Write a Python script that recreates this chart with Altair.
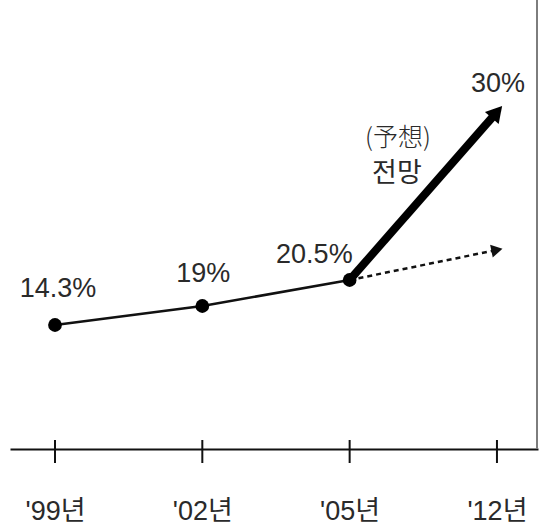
import altair as alt
import pandas as pd

# Survey years (x categories) and the rates shown at each point
years = ["'99년", "'02년", "'05년", "'12년"]
actual_rates = [14.3, 19.0, 20.5]
forecast_rate = 30.0
trend_rate = 22.2          # continuation of the earlier trend (dotted arrow)

FONT = "Liberation Sans, Noto Sans CJK KR"
KFONT = "Noto Sans CJK KR"
TEXT = "#2a2a2a"

W, H = 528, 449

actual = pd.DataFrame({"year": years[:3], "rate": actual_rates,
                       "label": [f"{v:g}%" for v in actual_rates]})
forecast = pd.DataFrame({"year": [years[2], years[3]],
                         "rate": [actual_rates[2], forecast_rate]})
trend = pd.DataFrame({"year": [years[2], years[3]],
                      "rate": [actual_rates[2], trend_rate]})
forecast_end = pd.DataFrame({"year": [years[3]], "rate": [forecast_rate],
                             "label": [f"{forecast_rate:g}%"]})
trend_end = pd.DataFrame({"year": [years[3]], "rate": [trend_rate]})
ticks = pd.DataFrame({"year": years})
edge = pd.DataFrame({"k": [1]})

x = alt.X("year:O",
          scale=alt.Scale(type="point", domain=years, padding=0.292, align=0.523),
          axis=alt.Axis(title=None, domain=True, domainColor="#111", domainWidth=2,
                        ticks=False, tickSize=0, labelAngle=0, labelPadding=70,
                        labelBaseline="alphabetic", labelFont=FONT, labelFontSize=27,
                        labelColor=TEXT, grid=False))
# schematic (non-proportional) vertical scale
y = alt.Y("rate:Q",
          scale=alt.Scale(domain=actual_rates + [forecast_rate],
                          range=[325, 306, 280, 112], nice=False, zero=False),
          axis=None)

base_actual = alt.Chart(actual).encode(x=x, y=y)

main_line = base_actual.mark_line(color="#111", strokeWidth=2.5)
dots = base_actual.mark_point(filled=True, color="#000", size=190, opacity=1)

proj_line = alt.Chart(forecast).mark_line(color="#000", strokeWidth=8).encode(x=x, y=y)
proj_head = alt.Chart(forecast_end).mark_point(
    shape="triangle-up", filled=True, color="#000", size=330, angle=41, opacity=1
).encode(x=x, y=y)

trend_line = alt.Chart(trend).mark_line(color="#111", strokeWidth=2.5,
                                        strokeDash=[5, 4]).encode(x=x, y=y)
trend_head = alt.Chart(trend_end).mark_point(
    shape="triangle-up", filled=True, color="#111", size=170, angle=78.5, opacity=1
).encode(x=x, y=y)

tick_marks = alt.Chart(ticks).mark_rule(color="#111", strokeWidth=2).encode(
    x=x, y=alt.value(H - 9), y2=alt.value(H + 14))

# light frame edge on the right of the plot (full plot height)
frame = alt.Chart(edge).mark_rule(color="#7d7d7d", strokeWidth=2).encode(
    x=alt.value(W - 1))


def value_label(row, **kw):
    return alt.Chart(actual.iloc[[row]]).mark_text(
        font=FONT, fontSize=27, color=TEXT, baseline="alphabetic", **kw
    ).encode(x=x, y=y, text="label:N")


lab0 = value_label(0, dx=3, dy=-28)
lab1 = value_label(1, dx=1, dy=-24)
lab2 = value_label(2, align="right", dx=3, dy=-17)

lab_fc = alt.Chart(forecast_end).mark_text(
    font=FONT, fontSize=27, color=TEXT, baseline="alphabetic", dx=1, dy=-20
).encode(x=x, y=y, text="label:N")

note1 = alt.Chart(forecast_end).mark_text(
    text="(予想)", font=KFONT, fontSize=25, fontWeight=300, color=TEXT,
    baseline="middle", dx=-99, dy=26
).encode(x=x, y=y)
note2 = alt.Chart(forecast_end).mark_text(
    text="전망", font=KFONT, fontSize=27, color=TEXT,
    baseline="middle", dx=-100, dy=62
).encode(x=x, y=y)

chart = alt.layer(
    tick_marks, main_line, trend_line, trend_head, proj_line, proj_head,
    dots, lab0, lab1, lab2, lab_fc, note1, note2, frame
).properties(
    width=W, height=H,
    padding={"left": 10, "top": 0, "right": 3, "bottom": 78},
    autosize=alt.AutoSizeParams(type="none"),
    background="white",
).configure_view(stroke=None)

chart.save("out.html", embed_options={"renderer": "svg", "actions": False})
